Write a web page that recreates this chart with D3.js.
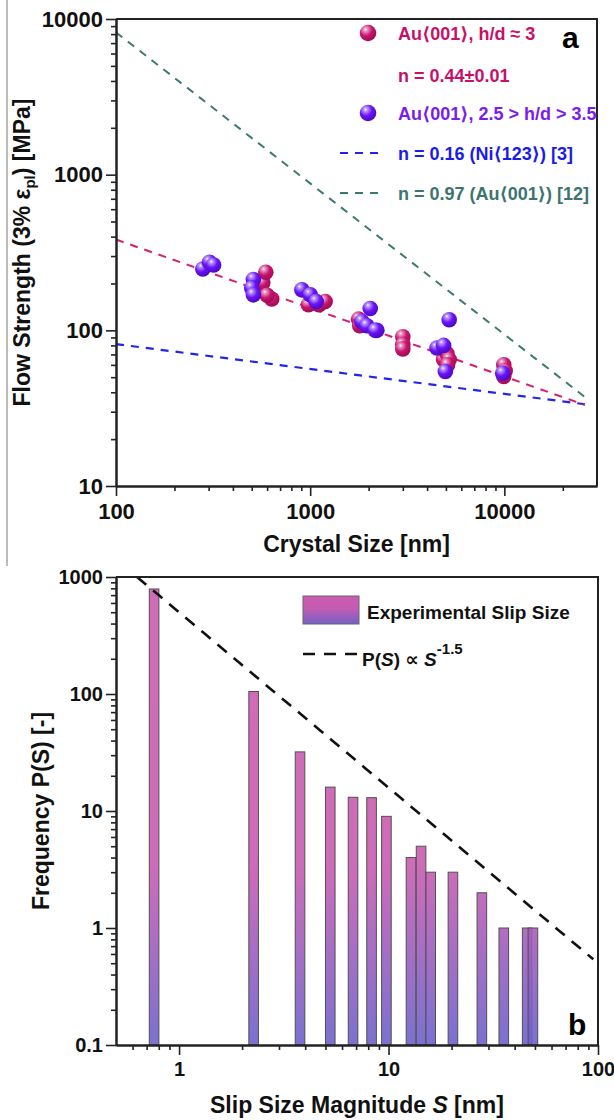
<!DOCTYPE html>
<html><head><meta charset="utf-8">
<script src="https://cdn.jsdelivr.net/npm/d3@7"></script>
<style>
html,body{margin:0;padding:0;background:#fff;}
svg text{font-family:"Liberation Sans",Arial,"DejaVu Sans",sans-serif;font-weight:bold;}
</style></head>
<body>
<svg id="c" width="614" height="1120"></svg>
<script>
// ---------- Panel a data ----------
const pinkSize  = [510,570,591,634,600,980,1110,1194,1775,1800,1850,3000,3000,3000,4865,5058,5200,5100,9930,9930,10100];
const pinkStr   = [175,202,236,159,168,146,146,153,118,107,112,91,81,76,65,71,65,60,60,50.5,55];
const purpSize  = [280,303,318,510,500,510,906,1000,1074,2038,1845,1958,2206,2163,5200,4497,4865,4967,9800];
const purpStr   = [248,274,263,212,187,169,182,169,153,138,114,107,100,100,117,77,80,54.4,53];
// power-law reference lines: prefactor at 100 nm and exponent n
const fitPink   = {a:383,  n:0.44};
const fitNi     = {a:81.6, n:0.16};
const fitAu     = {a:8200, n:0.97};
const lineRange = [100, 26000];
const xTicksA = [100,1000,10000];
const yTicksA = [10,100,1000,10000];

// ---------- Panel b data ----------
const slipSize = [0.76,2.27,3.78,5.27,6.77,8.3,9.77,12.8,14.3,15.9,20.3,27.9,35.5,45.9,48.9];
const slipFreq = [790,105,32,16,13.1,13,9.0,4.0,5.0,3.0,3.0,2.0,1.0,1.0,1.0];
const powPref = 500, powExp = -1.5, powRange = [0.63, 95];
const xTicksB = [1,10,100];
const yTicksB = [0.1,1,10,100,1000];

const svg = d3.select("#c");
const defs = svg.append("defs");

function sphereGrad(id, light, base, dark){
  const g = defs.append("radialGradient").attr("id",id).attr("cx","38%").attr("cy","32%").attr("r","68%").attr("fx","35%").attr("fy","28%");
  g.append("stop").attr("offset","0%").attr("stop-color","#ffffff");
  g.append("stop").attr("offset","14%").attr("stop-color",light);
  g.append("stop").attr("offset","55%").attr("stop-color",base);
  g.append("stop").attr("offset","100%").attr("stop-color",dark);
}
sphereGrad("gPink","#eaa0c8","#c8156e","#a00a55");
sphereGrad("gPurp","#c0a0ff","#6a14f4","#4c08c4");

svg.append("line").attr("x1",7).attr("x2",7).attr("y1",0).attr("y2",566).attr("stroke","#777").attr("stroke-width",1);

function minorTicks(lo, hi){
  const out=[];
  for(let e=Math.floor(Math.log10(lo)); e<=Math.ceil(Math.log10(hi)); e++){
    for(let k=2;k<=9;k++){const v=k*Math.pow(10,e); if(v>lo*1.0001 && v<hi*0.9999) out.push(v);}
  }
  return out;
}
function drawAxes(g, x, y, W, H, xt, yt, fmt, fsz){
  const left = g.append("g");
  left.call(d3.axisLeft(y).tickValues(yt).tickSize(10).tickFormat(fmt).tickSizeOuter(0));
  left.append("g").call(d3.axisLeft(y).tickValues(minorTicks(y.domain()[0],y.domain()[1])).tickSize(5).tickFormat("").tickSizeOuter(0));
  const bot = g.append("g").attr("transform",`translate(0,${H})`);
  bot.call(d3.axisBottom(x).tickValues(xt).tickSize(10).tickFormat(fmt).tickSizeOuter(0));
  bot.append("g").call(d3.axisBottom(x).tickValues(minorTicks(x.domain()[0],x.domain()[1])).tickSize(5).tickFormat("").tickSizeOuter(0));
  g.selectAll(".domain").attr("stroke","#222").attr("stroke-width",2);
  g.selectAll(".tick line").attr("stroke","#222").attr("stroke-width",1.6);
  g.selectAll(".tick text").attr("font-size",fsz).attr("fill","#111").style("font-family","'Liberation Sans',Arial,sans-serif").style("font-weight","bold");
  left.selectAll(".tick text").attr("x",-13);
  bot.selectAll(".tick text").attr("y",17);
  g.append("path").attr("d",`M0,0H${W}V${H}`).attr("fill","none").attr("stroke","#222").attr("stroke-width",2);
}

// ================= Panel a =================
{
  const L=116,T=19,R=597,B=486, W=R-L, H=B-T;
  const g = svg.append("g").attr("transform",`translate(${L},${T})`);
  const x = d3.scaleLog().domain([100,30000]).range([0,W]);
  const y = d3.scaleLog().domain([10,10000]).range([H,0]);
  defs.append("clipPath").attr("id","clipA").append("rect").attr("width",W).attr("height",H);
  const pl = g.append("g").attr("clip-path","url(#clipA)");
  const fitLine = (f)=> d3.line().x(d=>x(d)).y(d=>y(f.a*Math.pow(d/100,-f.n)))(lineRange);
  pl.append("path").attr("d",fitLine(fitAu)).attr("stroke","#3b7a72").attr("stroke-width",2).attr("stroke-dasharray","8,7").attr("fill","none");
  pl.append("path").attr("d",fitLine(fitNi)).attr("stroke","#2323f0").attr("stroke-width",2.2).attr("stroke-dasharray","8,7").attr("fill","none");
  pl.append("path").attr("d",fitLine(fitPink)).attr("stroke","#d6206f").attr("stroke-width",2).attr("stroke-dasharray","8,7").attr("fill","none");
  const pinkPts = pinkSize.map((d,i)=>[d,pinkStr[i]]);
  const purpPts = purpSize.map((d,i)=>[d,purpStr[i]]);
  pl.selectAll(".pk").data(pinkPts).join("circle").attr("cx",d=>x(d[0])).attr("cy",d=>y(d[1])).attr("r",7.8).attr("fill","url(#gPink)");
  pl.selectAll(".pp").data(purpPts).join("circle").attr("cx",d=>x(d[0])).attr("cy",d=>y(d[1])).attr("r",7.8).attr("fill","url(#gPurp)");
  drawAxes(g,x,y,W,H,xTicksA,yTicksA,d3.format("d"),22);

  const lg = svg.append("g");
  lg.append("circle").attr("cx",368).attr("cy",33).attr("r",8.3).attr("fill","url(#gPink)");
  lg.append("circle").attr("cx",368).attr("cy",113).attr("r",8.3).attr("fill","url(#gPurp)");
  const lt = (yy,txt,col)=>lg.append("text").attr("x",398).attr("y",yy).attr("font-size",18).attr("fill",col).text(txt);
  lt(40,"Au\u27E8001\u27E9, h/d \u2248 3","#c8106a");
  lt(82,"n = 0.44\u00B10.01","#c8106a");
  lt(120,"Au\u27E8001\u27E9, 2.5 > h/d > 3.5","#7a1cf0");
  lt(160,"n = 0.16 (Ni\u27E8123\u27E9) [3]","#1c1ce8");
  lt(200,"n = 0.97 (Au\u27E8001\u27E9) [12]","#3b7470");
  lg.append("line").attr("x1",340).attr("x2",384).attr("y1",153).attr("y2",153).attr("stroke","#2323f0").attr("stroke-width",2.2).attr("stroke-dasharray","8,7");
  lg.append("line").attr("x1",340).attr("x2",384).attr("y1",193).attr("y2",193).attr("stroke","#3b7a72").attr("stroke-width",2.2).attr("stroke-dasharray","8,7");
  svg.append("text").attr("x",562).attr("y",48).attr("font-size",30).attr("fill","#000").text("a");

  svg.append("text").attr("x",(L+R)/2).attr("y",552).attr("text-anchor","middle").attr("font-size",23).attr("fill","#111").text("Crystal Size [nm]");
  const yt = svg.append("text").attr("transform",`translate(30,${(T+B)/2}) rotate(-90)`).attr("text-anchor","middle").attr("font-size",23).attr("fill","#111");
  yt.append("tspan").text("Flow Strength (3% \u03B5");
  yt.append("tspan").attr("font-size",15).attr("dy",5).text("pl");
  yt.append("tspan").attr("dy",-5).text(") [MPa]");
}

// ================= Panel b =================
{
  const L=116,T=577,R=598,B=1045, W=R-L, H=B-T;
  const g = svg.append("g").attr("transform",`translate(${L},${T})`);
  const x = d3.scaleLog().domain([0.5,100]).range([0,W]);
  const y = d3.scaleLog().domain([0.1,1000]).range([H,0]);
  const bg = defs.append("linearGradient").attr("id","gBar").attr("gradientUnits","userSpaceOnUse").attr("x1",0).attr("x2",0).attr("y1",0).attr("y2",H);
  bg.append("stop").attr("offset","0%").attr("stop-color","#cc5cb0");
  bg.append("stop").attr("offset","62%").attr("stop-color","#c85cb1");
  bg.append("stop").attr("offset","100%").attr("stop-color","#6c62cc");
  const sg = defs.append("linearGradient").attr("id","gSw").attr("x1",0).attr("x2",0).attr("y1",0).attr("y2",1);
  sg.append("stop").attr("offset","0%").attr("stop-color","#cc5cb0");
  sg.append("stop").attr("offset","45%").attr("stop-color","#c45cb2");
  sg.append("stop").attr("offset","100%").attr("stop-color","#7460c8");
  defs.append("clipPath").attr("id","clipB").append("rect").attr("width",W).attr("height",H);
  const pl = g.append("g").attr("clip-path","url(#clipB)");
  const bw = 9.6;
  const data = slipSize.map((s,i)=>({s, f:slipFreq[i]}));
  pl.selectAll(".bar").data(data).join("rect")
    .attr("x",d=>x(d.s)-bw/2).attr("width",bw)
    .attr("y",d=>y(d.f)).attr("height",d=>H-y(d.f))
    .attr("fill","url(#gBar)").attr("fill-opacity",0.9).attr("stroke","#505050").attr("stroke-width",1);
  const pts = d3.range(0,41).map(i=>powRange[0]*Math.pow(powRange[1]/powRange[0], i/40));
  pl.append("path").attr("d",d3.line().x(d=>x(d)).y(d=>y(powPref*Math.pow(d,powExp)))(pts))
    .attr("fill","none").attr("stroke","#111").attr("stroke-width",2.6).attr("stroke-dasharray","12,9");
  drawAxes(g,x,y,W,H,xTicksB,yTicksB,d=>d3.format("~g")(d),20);

  svg.append("rect").attr("x",303).attr("y",596).attr("width",56).attr("height",28).attr("fill","url(#gSw)").attr("stroke","#666").attr("stroke-width",1);
  svg.append("text").attr("x",367).attr("y",619).attr("font-size",19).attr("fill","#111").text("Experimental Slip Size");
  svg.append("line").attr("x1",303).attr("x2",360).attr("y1",654).attr("y2",654).attr("stroke","#111").attr("stroke-width",2.6).attr("stroke-dasharray","12,9");
  const pt = svg.append("text").attr("x",362).attr("y",666).attr("font-size",19).attr("fill","#111");
  pt.append("tspan").text("P(");
  pt.append("tspan").attr("font-style","italic").text("S");
  pt.append("tspan").text(") \u221D ");
  pt.append("tspan").attr("font-style","italic").text("S");
  pt.append("tspan").attr("dy",-12).attr("font-size",15).text("-1.5");
  svg.append("text").attr("x",568).attr("y",1035).attr("font-size",30).attr("fill","#000").text("b");

  const xt = svg.append("text").attr("x",(L+R)/2).attr("y",1113).attr("text-anchor","middle").attr("font-size",23).attr("fill","#111");
  xt.append("tspan").text("Slip Size Magnitude ");
  xt.append("tspan").attr("font-style","italic").text("S");
  xt.append("tspan").text(" [nm]");
  svg.append("text").attr("transform",`translate(49,${(T+B)/2}) rotate(-90)`).attr("text-anchor","middle").attr("font-size",23).attr("fill","#111").text("Frequency P(S) [-]");
}
</script>
</body></html>
